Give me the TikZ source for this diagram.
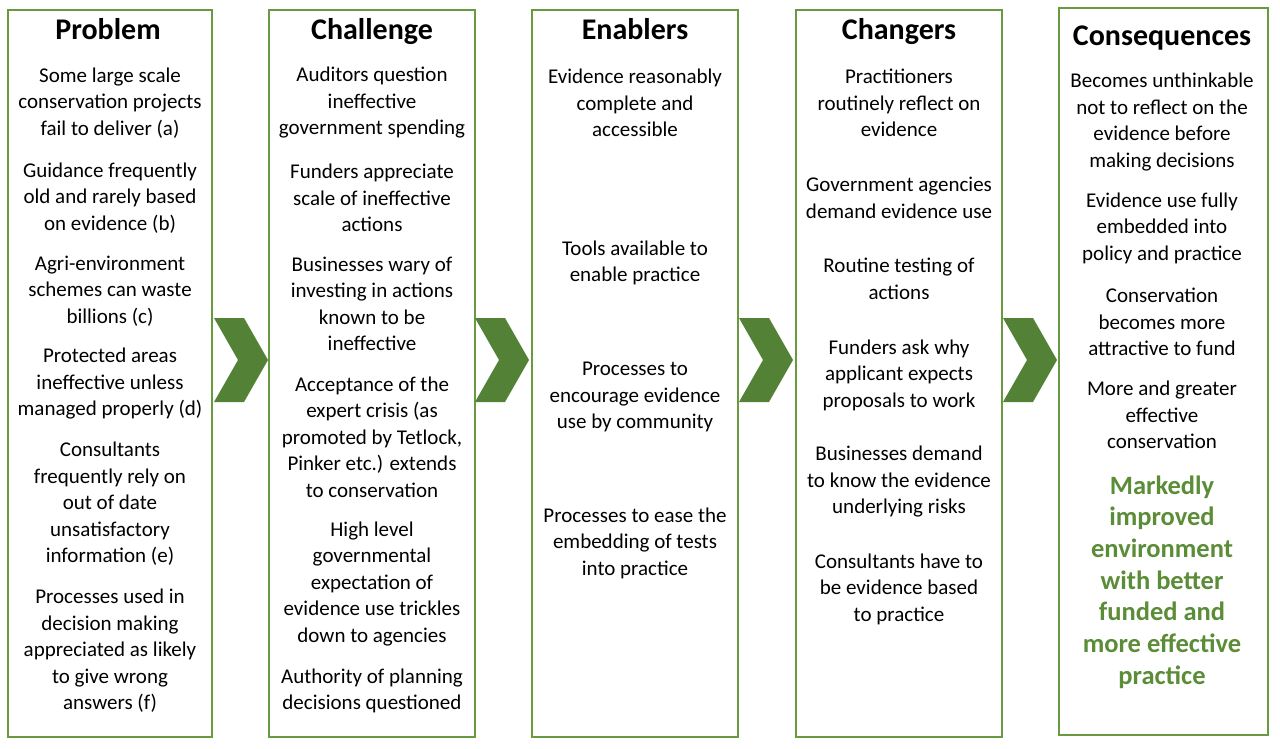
\documentclass[tikz,border=0pt]{standalone}
\usepackage{fontspec}
\setmainfont{Carlito}
\definecolor{bordergreen}{HTML}{6A9A3F}
\definecolor{chevgreen}{HTML}{538135}
\definecolor{textgreen}{HTML}{5B8C37}
\begin{document}
\begin{tikzpicture}[x=1pt,y=-1pt,
  col/.style={draw=bordergreen,line width=2.2pt},
  ttl/.style={font=\fontsize{30}{34}\selectfont\bfseries,inner sep=0pt,anchor=base},
  itm/.style={font=\fontsize{21}{26.5}\selectfont,align=center,inner sep=0pt},
  gitm/.style={font=\fontsize{26.5}{31.7}\selectfont\bfseries,align=center,inner sep=0pt,text=textgreen},
  chev/.style={fill=chevgreen,draw=none}]
\useasboundingbox (0,0) rectangle (1280,749);
% columns
\draw[col] (8,10) rectangle (212,737);
\draw[col] (269,10) rectangle (475,737);
\draw[col] (532,10) rectangle (738,737);
\draw[col] (796,10) rectangle (1002,737);
\draw[col] (1059,8) rectangle (1268,735);
% chevrons
\foreach \x [count=\i] in {214,475,739,1003}{
  \fill[chev] (\x,318) -- (\x+30,318) -- (\x+54,360) -- (\x+30,402) -- (\x,402) -- (\x+24,360) -- cycle;
}
% Problem
\node[ttl] (p0) at (108,40) {Problem};
\node[itm] (p1) at (110,103) {Some large scale\\conservation projects\\fail to deliver (a)};
\node[itm] (p2) at (110,198) {Guidance frequently\\old and rarely based\\on evidence (b)};
\node[itm] (p3) at (110,291) {Agri-environment\\schemes can waste\\billions (c)};
\node[itm] (p4) at (110,384) {Protected areas\\ineffective unless\\managed properly (d)};
\node[itm] (p5) at (110,504) {Consultants\\frequently rely on\\out of date\\unsatisfactory\\information (e)};
\node[itm] (p6) at (110,651) {Processes used in\\decision making\\appreciated as likely\\to give wrong\\answers (f)};
% Challenge
\node[ttl] (c0) at (372,40) {Challenge};
\node[itm] (c1) at (372,103) {Auditors question\\ineffective\\government spending};
\node[itm] (c2) at (372,198) {Funders appreciate\\scale of ineffective\\actions};
\node[itm] (c3) at (372,304) {Businesses wary of\\investing in actions\\known to be\\ineffective};
\node[itm] (c4) at (372,437) {Acceptance of the\\expert crisis (as\\promoted by Tetlock,\\Pinker etc.) extends\\to conservation};
\node[itm] (c5) at (372,584) {High level\\governmental\\expectation of\\evidence use trickles\\down to agencies};
\node[itm] (c6) at (372,691) {Authority of planning\\decisions questioned};
% Enablers
\node[ttl] (e0) at (635,40) {Enablers};
\node[itm] (e1) at (635,103) {Evidence reasonably\\complete and\\accessible};
\node[itm] (e2) at (635,263) {Tools available to\\enable practice};
\node[itm] (e3) at (635,397) {Processes to\\encourage evidence\\use by community};
\node[itm] (e4) at (635,543) {Processes to ease the\\embedding of tests\\into practice};
% Changers
\node[ttl] (g0) at (899,40) {Changers};
\node[itm] (g1) at (899,103) {Practitioners\\routinely reflect on\\evidence};
\node[itm] (g2) at (899,198) {Government agencies\\demand evidence use};
\node[itm] (g3) at (899,279) {Routine testing of\\actions};
\node[itm] (g4) at (899,375) {Funders ask why\\applicant expects\\proposals to work};
\node[itm] (g5) at (899,482) {Businesses demand\\to know the evidence\\underlying risks};
\node[itm] (g6) at (899,589) {Consultants have to\\be evidence based\\to practice};
% Consequences
\node[ttl] (k0) at (1162,46) {Consequences};
\node[itm] (k1) at (1162,122) {Becomes unthinkable\\not to reflect on the\\evidence before\\making decisions};
\node[itm] (k2) at (1162,228) {Evidence use fully\\embedded into\\policy and practice};
\node[itm] (k3) at (1162,322) {Conservation\\becomes more\\attractive to fund};
\node[itm] (k4) at (1162,415) {More and greater\\effective\\conservation};
\node[gitm] (k5) at (1162,582) {Markedly\\improved\\environment\\with better\\funded and\\more effective\\practice};
\end{tikzpicture}
\end{document}
